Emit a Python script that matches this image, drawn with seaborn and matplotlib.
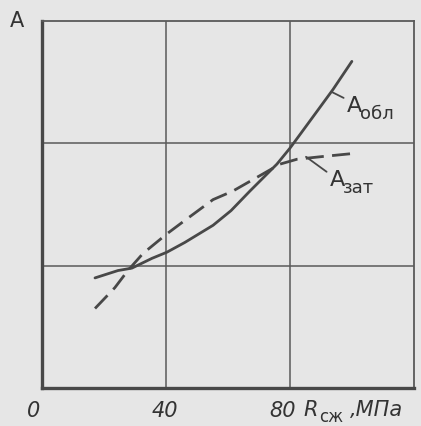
#!/usr/bin/env python3

import matplotlib
matplotlib.use("Agg")
import matplotlib.pyplot as plt
import matplotlib.transforms as mtransforms
import pandas as pd
import seaborn as sns

# A_обл (solid)
obl_x = [17.1, 24.5, 29.0, 35.5, 40.3, 46.1, 55.2, 61.0, 67.1, 75.8, 80, 83.2, 88.7, 93.9, 100]
obl_y = [0.90, 0.96, 0.98, 1.06, 1.11, 1.19, 1.33, 1.45, 1.61, 1.83, 1.96, 2.07, 2.26, 2.44, 2.67]

# A_зат (dashed)
zat_x = [17.1, 23.5, 27.7, 32.6, 40.3, 46.1, 55.2, 61.6, 71.3, 76.8, 82.3, 89.7, 101.6]
zat_y = [0.65, 0.82, 0.96, 1.10, 1.26, 1.37, 1.54, 1.61, 1.75, 1.83, 1.87, 1.89, 1.92]

x_ticks = [0, 40, 80]
x_labels = ["0", "40", "80"]

BG = "#e6e6e6"
INK = "#484848"
TXT = "#333333"


def main():
    sns.set_style("white")
    plt.rcParams["font.family"] = ["DejaVu Sans"]

    fig = plt.figure(figsize=(4.21, 4.26), dpi=100, facecolor=BG)
    ax = fig.add_axes([0.0998, 0.0892, 0.8832, 0.8615])
    ax.set_facecolor(BG)

    df = pd.concat(
        [
            pd.DataFrame({"x": obl_x, "y": obl_y, "curve": "obl"}),
            pd.DataFrame({"x": zat_x, "y": zat_y, "curve": "zat"}),
        ]
    )

    sns.lineplot(
        data=df[df.curve == "obl"], x="x", y="y", ax=ax,
        color=INK, linewidth=2.0, sort=False, estimator=None,
    )
    sns.lineplot(
        data=df[df.curve == "zat"], x="x", y="y", ax=ax,
        color=INK, linewidth=2.0, sort=False, estimator=None,
    )
    ax.lines[-1].set_dashes([6.5, 3])

    ax.set_xlim(0, 120)
    ax.set_ylim(0, 3)
    ax.set_xticks(x_ticks)
    ax.set_xticklabels(x_labels, fontsize=15, fontstyle="italic", color=TXT)
    ax.set_yticks([1, 2])
    ax.set_yticklabels([])
    ax.tick_params(length=0, pad=9)
    ax.grid(True, color="#5a5a5a", linewidth=1.1)
    ax.set_xlabel("")
    ax.set_ylabel("")

    # tick labels in the original sit a little left of their grid lines
    for lab, dx in zip(ax.get_xticklabels(), [-8, -1, -7]):
        lab.set_transform(lab.get_transform()
                          + mtransforms.ScaledTranslation(dx / 100, 0, fig.dpi_scale_trans))

    for side in ["left", "bottom"]:
        ax.spines[side].set_linewidth(2.4)
        ax.spines[side].set_color(INK)
    for side in ["top", "right"]:
        ax.spines[side].set_linewidth(1.3)
        ax.spines[side].set_color("#5a5a5a")

    trans = mtransforms.blended_transform_factory(ax.transData, ax.transAxes)
    ax.text(84.5, -0.061, "R", transform=trans, fontsize=15, fontstyle="italic",
            color=TXT, va="center", ha="left")
    ax.text(89.3, -0.080, "сж", transform=trans, fontsize=12,
            color=TXT, va="center", ha="left")
    ax.text(99.5, -0.061, ",МПа", transform=trans, fontsize=15, fontstyle="italic",
            color=TXT, va="center", ha="left")
    ax.text(-0.067, 1.0, "A", transform=ax.transAxes, fontsize=15,
            color=TXT, va="center", ha="center")

    ax.annotate("A", xy=(93.5, 2.42), xytext=(98.4, 2.26),
                fontsize=16, color=TXT, va="baseline",
                arrowprops=dict(arrowstyle="-", color=INK, lw=1.3,
                                shrinkA=0, shrinkB=0, relpos=(0, 0.8)))
    ax.text(102.5, 2.20, "обл", fontsize=13, color=TXT, va="baseline")
    ax.annotate("A", xy=(85.2, 1.89), xytext=(92.9, 1.65),
                fontsize=16, color=TXT, va="baseline",
                arrowprops=dict(arrowstyle="-", color=INK, lw=1.3,
                                shrinkA=0, shrinkB=0, relpos=(0, 0.8)))
    ax.text(97.0, 1.59, "зат", fontsize=13, color=TXT, va="baseline")

    fig.savefig("out.png", dpi=100, facecolor=BG)
    plt.close(fig)


if __name__ == "__main__":
    main()
